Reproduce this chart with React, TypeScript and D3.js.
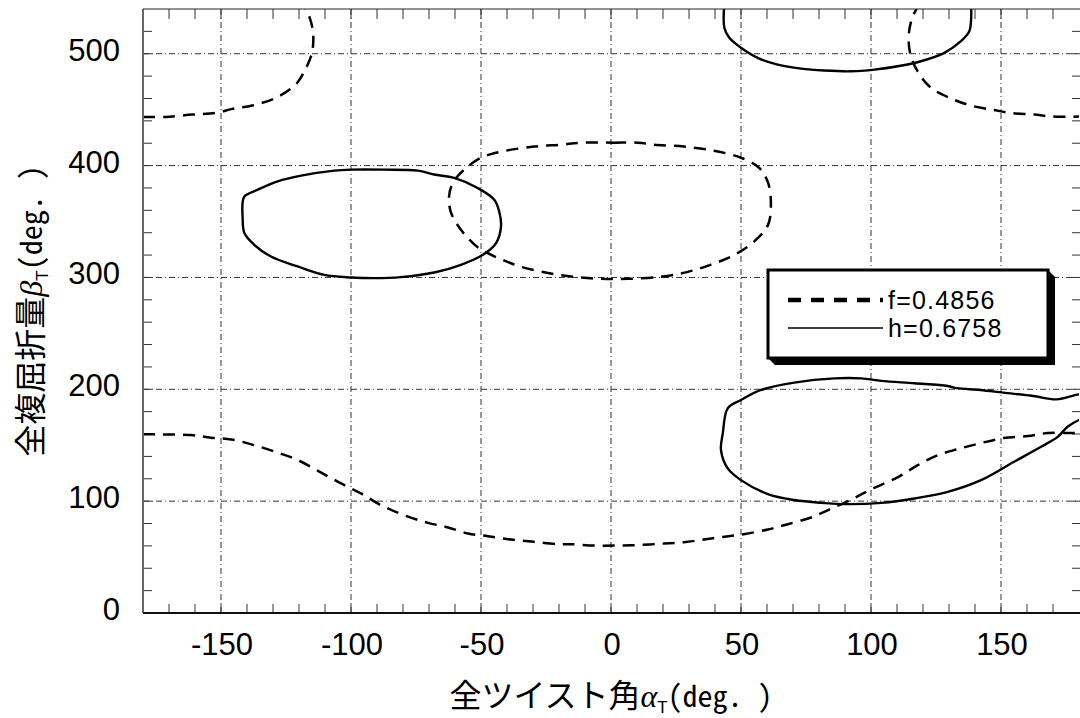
import React from 'react';
import * as d3 from 'd3';

// tick values
const alphaTicks = [-150, -100, -50, 0, 50, 100, 150];
const betaTicks = [0, 100, 200, 300, 400, 500];

// f = 0.4856 contour (dashed), [alpha, beta]
const fLower = [
  [-180, 159.7], [-173, 159.7], [-161.5, 159.1], [-153.8, 156.7], [-146, 155.2], [-137.3, 150.1],
  [-128, 143.2], [-120.4, 136.7], [-112.7, 127.1], [-103.8, 115.8], [-96.2, 106.9], [-88.5, 96.4],
  [-79.6, 87.5], [-70.4, 80.6], [-62.7, 76.5], [-55, 71.1], [-47.3, 68.7], [-38.5, 65.7],
  [-29.6, 63.6], [-20.4, 61.5], [-15.4, 61.5], [-6.5, 60.3], [2.7, 60.3], [11.5, 60.9],
  [20.4, 62.1], [28, 63.3], [35.8, 65.7], [43, 68], [51, 70.5], [60.4, 74.7], [68, 79.4],
  [77, 85.4], [83.5, 92], [93.5, 102.7], [101, 111.6], [110.4, 121.5], [118, 132.2],
  [125.8, 141.2], [133.5, 146.6], [142.3, 151.9], [151, 156.4], [160.4, 158.2], [168, 160.9],
  [175.8, 160.9], [180, 160.9],
];
const fUpperLeft = [
  [-180, 443.5], [-171.3, 443.5], [-161, 445.6], [-152, 447.1], [-145.7, 450.7], [-138, 453.7],
  [-129, 460.5], [-121.3, 472.4], [-118, 484], [-115, 501], [-114.6, 519], [-116, 533],
  [-117.7, 541], [-118.5, 545],
];
const fUpperRight = [
  [118.5, 545], [117.7, 541], [116, 533], [114.6, 519], [115, 501], [118, 484], [123, 469.7],
  [130.8, 460], [138.5, 453.6], [147, 449.8], [153.8, 447], [162.7, 445.6], [170, 443.8],
  [180, 443.8],
];
const fLoop = [
  [-11.5, 420.5], [1.2, 420.5], [10.4, 420.5], [16.5, 418.7], [28, 417], [39.6, 413.3],
  [50, 407], [57, 398], [60.4, 384.7], [61.5, 366.8], [60.4, 347], [55, 332], [47.3, 320],
  [38.5, 311.5], [29.6, 305], [19.2, 300.6], [6.5, 298.8], [-3.8, 298.8], [-14.2, 300.6],
  [-24.2, 304], [-34.6, 309.5], [-43.5, 317.5], [-51, 326.5], [-57.7, 342.6], [-61.5, 357.8],
  [-62.3, 372], [-60.8, 384.7], [-56.5, 396.3], [-50, 407], [-42.3, 412.4], [-29.6, 417],
  [-19.2, 418.7],
];

// h = 0.6758 contour (solid)
const hLeftLoop = [
  [-141, 372.4], [-135.9, 378.4], [-128.2, 385.9], [-119.2, 391], [-106.4, 395.5], [-100, 396.4],
  [-87.2, 396.4], [-74.3, 395.5], [-68, 392], [-60.3, 389], [-51.3, 380], [-44.9, 369.5],
  [-43, 359], [-42.3, 345.6], [-44.2, 330.7], [-49.3, 320.2], [-57.7, 311.3], [-68, 304.4],
  [-80.8, 300.3], [-91, 299.4], [-100, 300], [-110.3, 302.3], [-120.5, 309.8], [-130.8, 318.7],
  [-137.2, 329.2], [-141, 339.7], [-141.7, 354.5], [-141.7, 366.5],
];
const hTopLoop = [
  [43.6, 545], [43.6, 523.2], [45.5, 514.2], [50, 505.3], [56.4, 496.3], [64.1, 490.3],
  [73.1, 486.7], [82, 485], [92.3, 484.3], [101.3, 485.8], [110.3, 488.8], [119.2, 493.3],
  [128.2, 500.8], [134.6, 511.2], [137.8, 520.1], [138.5, 530.6], [138.5, 545],
];
const hRightLoop = [
  [182, 195], [180, 195.5], [171.4, 191], [162.4, 194], [150.9, 197], [142, 199.4], [133, 201],
  [129.5, 203], [116.7, 205.4], [104, 207.5], [96.2, 209.8], [86, 209.8], [70.5, 206],
  [57.7, 199.4], [50, 190.4], [44.9, 183], [43, 160.6], [42.3, 145.7], [44.9, 129.3],
  [50, 118.8], [60.3, 106.3], [70.5, 101], [80.8, 98.5], [91, 97.3], [104, 98.5],
  [116.7, 102.4], [129.5, 108.3], [142.3, 118.8], [155, 135.2], [165.4, 148.6],
  [171.8, 157.5], [175.6, 166.5], [180, 172.5], [182, 174],
];

const legendItems = ['f=0.4856', 'h=0.6758'];

const W = 1080;
const H = 718;
const left = 143;
const right = 1079;
const top = 9;
const bottom = 613;

const App = () => {
  const x = d3.scaleLinear().domain([-180, 180]).range([left, right]);
  const y = d3.scaleLinear().domain([0, 540]).range([bottom, top]);

  const openLine = d3.line<number[]>()
    .x(d => x(d[0]))
    .y(d => y(d[1]))
    .curve(d3.curveCatmullRom.alpha(0.5));
  const closedLine = d3.line<number[]>()
    .x(d => x(d[0]))
    .y(d => y(d[1]))
    .curve(d3.curveCatmullRomClosed.alpha(0.5));

  const minorX = d3.range(-170, 180, 10);
  const minorY = d3.range(20, 540, 20);

  const dashed = { fill: 'none', stroke: '#000', strokeWidth: 2.5, strokeDasharray: '12,8' };
  const solid = { fill: 'none', stroke: '#000', strokeWidth: 2.4 };

  // legend box
  const lx = 768, ly = 270, lw = 280, lh = 88, sh = 7;

  const cjk = "'Noto Sans CJK JP', sans-serif";
  const mono = "'Noto Sans Mono CJK JP', 'DejaVu Sans Mono', monospace";

  return (
    <svg width={W} height={H} style={{ position: 'absolute', left: 0, top: 0, background: '#fff' }}
      fontFamily="'Liberation Sans', Arial, sans-serif">
      <defs>
        <clipPath id="plot">
          <rect x={left} y={top} width={right - left} height={bottom - top} />
        </clipPath>
      </defs>
      <rect width={W} height={H} fill="#fff" />

      {/* grid */}
      {alphaTicks.map(t => (
        <line key={'gx' + t} x1={x(t)} x2={x(t)} y1={top} y2={bottom}
          stroke="#333" strokeWidth={1} strokeDasharray="6,3,1,3" />
      ))}
      {betaTicks.filter(t => t > 0).map(t => (
        <line key={'gy' + t} x1={left} x2={right} y1={y(t)} y2={y(t)}
          stroke="#333" strokeWidth={1} strokeDasharray="6,3,1,3" />
      ))}

      {/* ticks */}
      {minorX.map(t => (
        <g key={'tx' + t} stroke="#333" strokeWidth={1}>
          <line x1={x(t)} x2={x(t)} y1={bottom} y2={bottom - 9} />
          <line x1={x(t)} x2={x(t)} y1={top} y2={top + 10} />
        </g>
      ))}
      {minorY.map(t => (
        <g key={'ty' + t} stroke="#333" strokeWidth={1}>
          <line x1={left} x2={left + 9} y1={y(t)} y2={y(t)} />
          <line x1={W} x2={W - 8} y1={y(t)} y2={y(t)} />
        </g>
      ))}

      {/* contours */}
      <g clipPath="url(#plot)">
        <path d={openLine(fLower) || ''} style={dashed} />
        <path d={openLine(fUpperLeft) || ''} style={dashed} />
        <path d={openLine(fUpperRight) || ''} style={dashed} />
        <path d={closedLine(fLoop) || ''} style={dashed} />
        <path d={closedLine(hLeftLoop) || ''} style={solid} />
        <path d={openLine(hTopLoop) || ''} style={solid} />
        <path d={openLine(hRightLoop) || ''} style={solid} />
      </g>

      {/* frame */}
      <line x1={left} x2={W} y1={top} y2={top} stroke="#222" strokeWidth={1} />
      <line x1={left} x2={left} y1={top} y2={bottom} stroke="#666" strokeWidth={2} />
      <line x1={left} x2={W} y1={bottom} y2={bottom} stroke="#111" strokeWidth={2} />

      {/* tick labels */}
      {alphaTicks.map(t => (
        <text key={'lx' + t} x={x(t) + 1} y={655} textAnchor="middle" fontSize={31}>{t}</text>
      ))}
      {betaTicks.map(t => (
        <text key={'ly' + t} x={120} y={y(t) + 7} textAnchor="end" fontSize={31}>{t}</text>
      ))}

      {/* legend */}
      <polygon
        points={`${lx},${ly + lh} ${lx + sh},${ly + lh + sh} ${lx + lw + sh},${ly + lh + sh} ${lx + lw + sh},${ly + sh} ${lx + lw},${ly}`}
        fill="#000" />
      <rect x={lx} y={ly} width={lw} height={lh} fill="#fff" stroke="#000" strokeWidth={3} />
      <line x1={788} x2={883} y1={300} y2={300} stroke="#000" strokeWidth={4.5} strokeDasharray="13,10" />
      <line x1={788} x2={883} y1={328} y2={328} stroke="#000" strokeWidth={1.5} />
      {legendItems.map((s, i) => (
        <text key={s} x={888} y={309 + i * 28} fontSize={25} letterSpacing={1.2}>{s}</text>
      ))}

      {/* axis titles */}
      <text x={611} y={707} textAnchor="middle" fontSize={32}>
        <tspan fontFamily={cjk}>全ツイスト角</tspan>
        <tspan fontStyle="italic" fontFamily="'Liberation Serif', serif">α</tspan>
        <tspan fontSize={17} dy={6}>T</tspan>
        <tspan dy={-6} fontFamily={mono} fontSize={30}>(deg. )</tspan>
      </text>
      <text transform={`translate(42,${(top + bottom) / 2}) rotate(-90)`} textAnchor="middle" fontSize={32}>
        <tspan fontFamily={cjk}>全複屈折量</tspan>
        <tspan fontStyle="italic" fontFamily="'Liberation Serif', serif">β</tspan>
        <tspan fontSize={17} dy={6}>T</tspan>
        <tspan dy={-6} fontFamily={mono} fontSize={30}>(deg. )</tspan>
      </text>
    </svg>
  );
};

export default App;
